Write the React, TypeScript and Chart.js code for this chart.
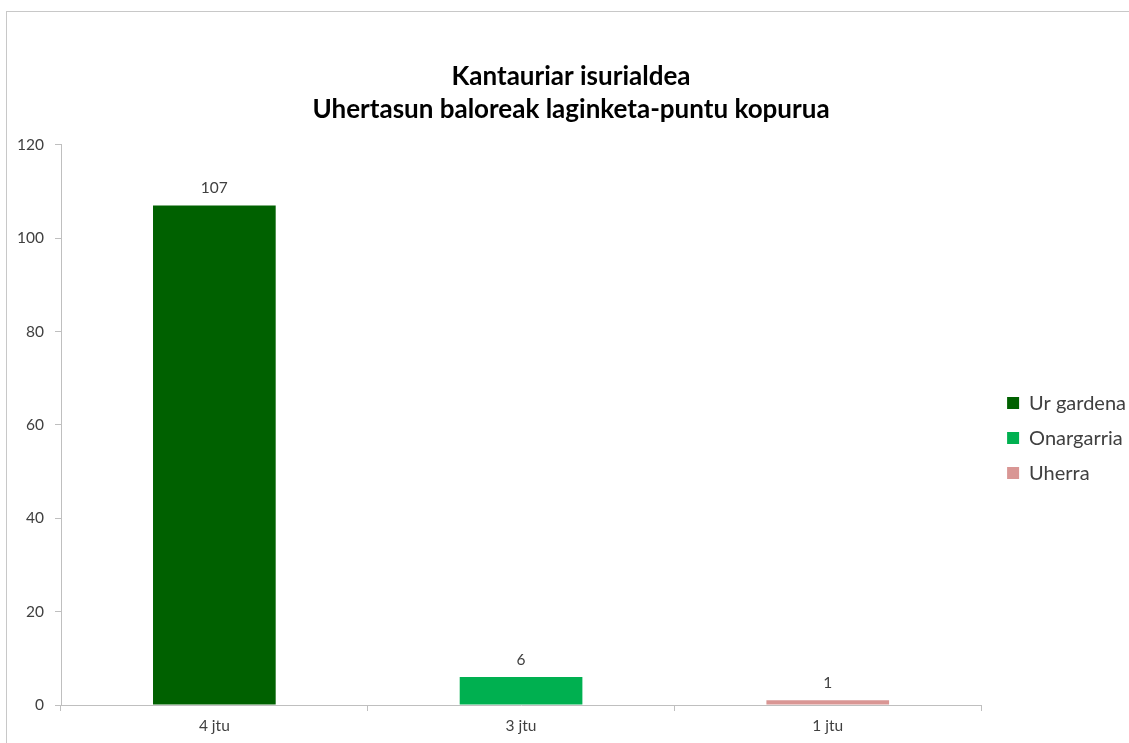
import React, { useEffect, useRef } from "react";
import { Chart, registerables } from "chart.js";

Chart.register(...registerables);

const titleLines = ["Kantauriar isurialdea", "Uhertasun baloreak laginketa-puntu kopurua"];
const categories = ["4 jtu", "3 jtu", "1 jtu"];
const seriesNames = ["Ur gardena", "Onargarria", "Uherra"];
const values = [107, 6, 1];
const colors = ["#006100", "#00B050", "#D99694"];
const yMin = 0;
const yMax = 120;
const yStep = 20;

const FONT = "Lato";
const TEXT = "#404040";
const AXIS = "#BFBFBF";

const valueLabels = {
  id: "valueLabels",
  afterDatasetsDraw(chart: any) {
    const ctx = chart.ctx;
    const meta = chart.getDatasetMeta(0);
    ctx.save();
    ctx.font = `15.5px ${FONT}`;
    ctx.fillStyle = TEXT;
    ctx.textAlign = "center";
    ctx.textBaseline = "alphabetic";
    meta.data.forEach((bar: any, i: number) => {
      ctx.fillText(String(values[i]), bar.x, bar.y - 12);
    });
    ctx.restore();
  },
};

export default function App() {
  const ref = useRef<HTMLCanvasElement | null>(null);

  useEffect(() => {
    if (!ref.current) return;
    const chart = new Chart(ref.current, {
      type: "bar",
      data: {
        labels: categories,
        datasets: [
          {
            label: "Kopurua",
            data: values,
            backgroundColor: colors,
            borderWidth: 0,
            barPercentage: 0.4,
            categoryPercentage: 1,
          },
        ],
      },
      options: {
        responsive: false,
        animation: false,
        layout: { padding: { left: 0, right: 2, top: 0, bottom: 0 } },
        plugins: {
          tooltip: { enabled: false },
          title: {
            display: true,
            text: titleLines,
            color: "#000000",
            font: { family: FONT, size: 26, weight: "bold", lineHeight: 33.4 / 26 },
            padding: { top: 49, bottom: 18 },
          },
          legend: {
            display: true,
            position: "right",
            fullSize: false,
            title: {
              display: true,
              text: " ",
              font: { family: FONT, size: 12 },
              padding: { top: 0, bottom: 12 },
            },
            labels: {
              font: { family: FONT, size: 20 },
              color: TEXT,
              boxWidth: 12,
              boxHeight: 12,
              padding: 15,
              generateLabels: () =>
                seriesNames.map((name, i) => ({
                  text: name,
                  fillStyle: colors[i],
                  strokeStyle: colors[i],
                  lineWidth: 0,
                  hidden: false,
                  index: i,
                  fontColor: TEXT,
                })),
            },
          },
        },
        scales: {
          x: {
            afterFit: (scale: any) => {
              scale.height = 38;
            },
            border: { display: true, color: AXIS, width: 1 },
            grid: {
              display: true,
              drawOnChartArea: false,
              drawTicks: true,
              tickLength: 6,
              color: AXIS,
              offset: true,
            },
            ticks: {
              font: { family: FONT, size: 15.5 },
              color: TEXT,
              padding: 6,
            },
          },
          y: {
            min: yMin,
            max: yMax,
            afterFit: (scale: any) => {
              scale.width = 55;
            },
            border: { display: true, color: AXIS, width: 1 },
            grid: {
              display: true,
              drawOnChartArea: false,
              drawTicks: true,
              tickLength: 6,
              color: AXIS,
            },
            ticks: {
              stepSize: yStep,
              font: { family: FONT, size: 15.5 },
              color: TEXT,
              padding: 11,
            },
          },
          gap: {
            type: "linear",
            position: "right",
            display: true,
            min: yMin,
            max: yMax,
            afterFit: (scale: any) => {
              scale.width = 11;
            },
            border: { display: false },
            grid: { display: false, drawTicks: false },
            ticks: { display: false },
          },
        },
      },
      plugins: [valueLabels],
    });
    return () => chart.destroy();
  }, []);

  return (
    <div
      style={{
        position: "fixed",
        left: 0,
        top: 0,
        width: 1129,
        height: 743,
        overflow: "hidden",
        background: "#ffffff",
      }}
    >
      <canvas
        ref={ref}
        width={1132}
        height={732}
        style={{ position: "absolute", left: 6, top: 11, width: 1132, height: 732 }}
      />
      <div
        style={{
          position: "absolute",
          left: 6,
          top: 11,
          width: 1200,
          height: 800,
          borderTop: "1px solid #C8C8C8",
          borderLeft: "1px solid #C8C8C8",
          pointerEvents: "none",
        }}
      />
    </div>
  );
}
